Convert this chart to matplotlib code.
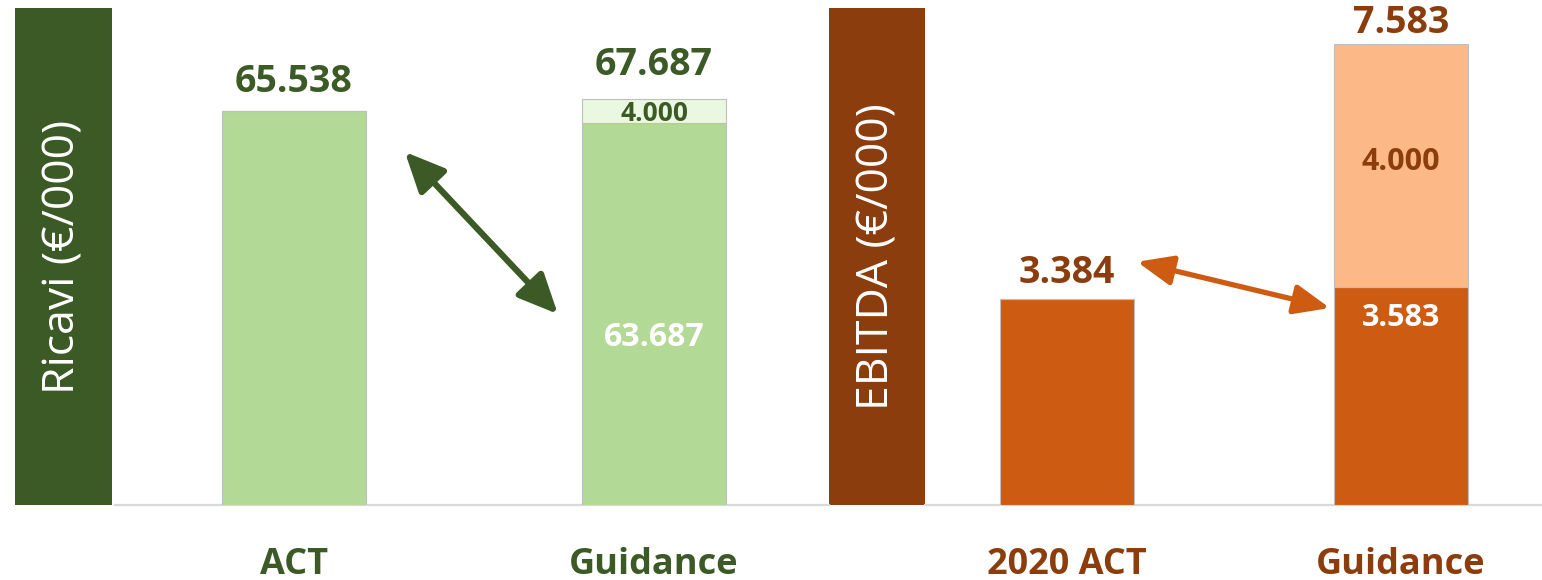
import matplotlib
matplotlib.use("Agg")
import matplotlib.pyplot as plt

plt.rcParams["font.family"] = ["Open Sans", "DejaVu Sans"]

# ---- data ----
rev_cats = ["ACT", "Guidance"]
rev_base = [65.538, 63.687]
rev_extra = [0.0, 4.000]
rev_totals = ["65.538", "67.687"]

ebitda_cats = ["2020 ACT", "Guidance"]
ebitda_base = [3.384, 3.583]
ebitda_extra = [0.0, 4.000]
ebitda_totals = ["3.384", "7.583"]

GREEN_DARK = "#3B5A26"
GREEN_BAR = "#B2D995"
GREEN_LIGHT = "#EAF7E1"
BROWN = "#8B3D0D"
ORANGE = "#CD5C12"
ORANGE_LIGHT = "#FDB888"
EDGE = "#BFBFBF"
BASE = "#D9D9D9"

W, H = 1542, 580
fig = plt.figure(figsize=(W / 100, H / 100), dpi=100)


def px_axes(x0, x1, y_top, y_bot):
    return fig.add_axes([x0 / W, (H - y_bot) / H, (x1 - x0) / W, (y_bot - y_top) / H])


def side_label(x0, x1, color, text):
    ax = px_axes(x0, x1, 8, 505)
    ax.set_facecolor(color)
    ax.set_xticks([]); ax.set_yticks([])
    for s in ax.spines.values():
        s.set_visible(False)
    ax.text(0.5, 0.5, text, rotation=90, ha="center", va="center",
            color="white", fontsize=32, transform=ax.transAxes)


def panel(ax, cats, base, extra, totals, c_base, c_extra, c_text, ymax,
          xlim, tot_off, inner_labels):
    x = list(range(len(cats)))
    ax.bar(x, base, width=0.4, color=c_base, edgecolor=EDGE, linewidth=0.8, zorder=2)
    ax.bar(x, extra, width=0.4, bottom=base, color=c_extra, edgecolor=EDGE,
           linewidth=0.8, zorder=2)
    for i in x:
        top = base[i] + extra[i]
        ax.annotate(totals[i], (i, top), xytext=(0, tot_off[i]),
                    textcoords="offset pixels", ha="center", va="baseline",
                    fontsize=27, fontweight="bold", color=c_text)
        ax.annotate(cats[i], (i, 0), xytext=(0, -69), textcoords="offset pixels",
                    ha="center", va="baseline", fontsize=26, fontweight="bold",
                    color=c_text, annotation_clip=False)
    for (i, yv, txt, col, fs) in inner_labels:
        ax.text(i, yv, txt, ha="center", va="center", fontsize=fs,
                fontweight="bold", color=col, zorder=3)
    ax.axhline(0, color=BASE, linewidth=1.6, zorder=1, clip_on=False)
    ax.set_ylim(0, ymax)
    ax.set_xlim(*xlim)
    ax.set_xticks([]); ax.set_yticks([])
    for s in ax.spines.values():
        s.set_visible(False)
    ax.patch.set_alpha(0)


side_label(15, 112, GREEN_DARK, "Ricavi (€/000)")
side_label(829, 925, BROWN, "EBITDA (€/000)")

# revenue panel
axL = px_axes(115, 829, 0, 505)
panel(axL, rev_cats, rev_base, rev_extra, rev_totals,
      GREEN_BAR, GREEN_LIGHT, GREEN_DARK, 505 / 6.005, (-0.497, 1.486),
      [19, 24],
      [(1, rev_base[1] * 0.437, "63.687", "white", 23),
       (1, rev_base[1] + rev_extra[1] / 2 - 0.5, "4.000", GREEN_DARK, 19)])
axL.annotate("", xy=(0.308, 58.8), xytext=(0.733, 31.8),
             arrowprops=dict(arrowstyle="<|-|>,head_length=1.2,head_width=0.55",
                             mutation_scale=20, lw=4.5, color=GREEN_DARK,
                             shrinkA=0, shrinkB=0))

# ebitda panel
axR = px_axes(925, 1542, 0, 505)
panel(axR, ebitda_cats, ebitda_base, ebitda_extra, ebitda_totals,
      ORANGE, ORANGE_LIGHT, BROWN, 505 / 60.8, (-0.425, 1.422),
      [16, 11],
      [(1, ebitda_base[1] - 0.5, "3.583", "white", 22),
       (1, ebitda_base[1] + ebitda_extra[1] / 2 + 0.06, "4.000", BROWN, 22)])
axR.annotate("", xy=(0.21, 4.0), xytext=(0.787, 3.24),
             arrowprops=dict(arrowstyle="<|-|>,head_length=1.2,head_width=0.5",
                             mutation_scale=18, lw=3.8, color=ORANGE,
                             shrinkA=0, shrinkB=0))

fig.savefig("out.png", dpi=100)
